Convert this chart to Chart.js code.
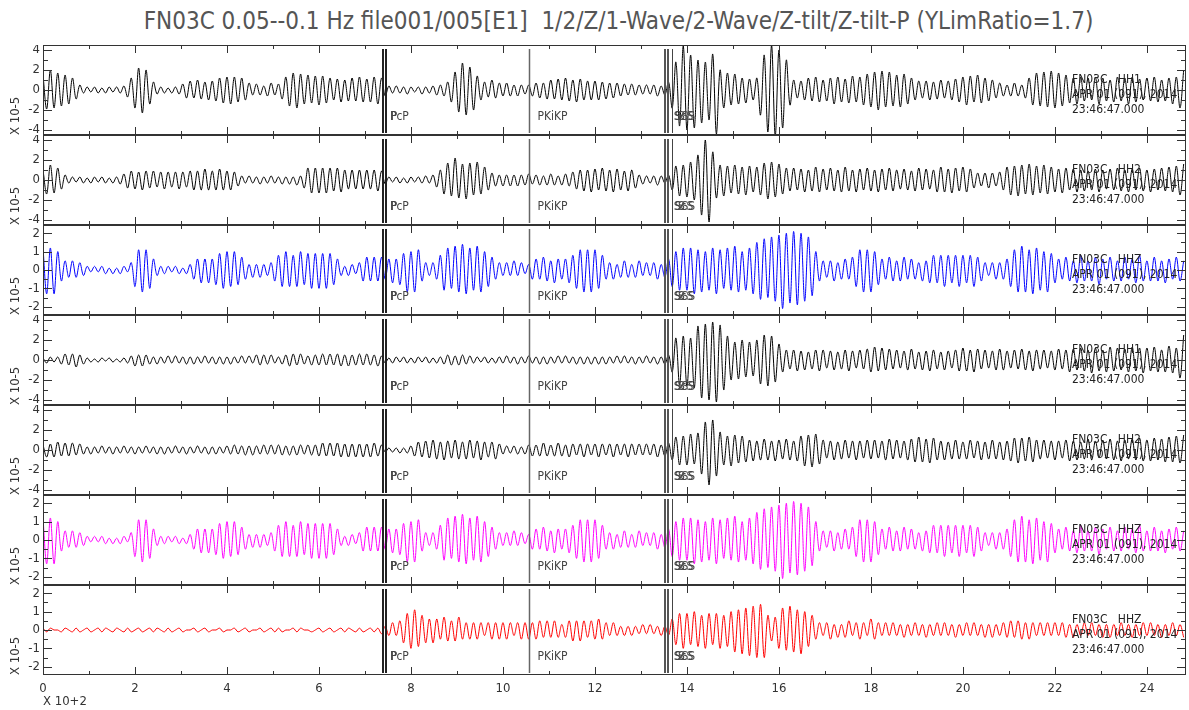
<!DOCTYPE html>
<html><head><meta charset="utf-8">
<script src="https://cdn.jsdelivr.net/npm/chart.js@4.4.1/dist/chart.umd.min.js"></script>
<style>
html,body{margin:0;padding:0;background:#fff;overflow:hidden}
#wrap{position:relative;width:1189px;height:710px;background:#fff}
#title{position:absolute;left:100px;width:1037px;top:6px;text-align:center;font-family:'Liberation Sans Narrow','DejaVu Sans Condensed','Arial Narrow',sans-serif;font-size:24px;line-height:30px;color:#555;white-space:pre}
</style></head>
<body><div id="wrap"><div id="title">FN03C 0.05--0.1 Hz file001/005[E1]  1/2/Z/1-Wave/2-Wave/Z-tilt/Z-tilt-P (YLimRatio=1.7)</div></div>
<script>
// ---- data (sample step DT in units of 10^2 s; amplitudes in 0.1 x 10^-5) ----
const DT = 0.08;
const X_MAX = 24.85;
const X_TICKS = [0,1,2,3,4,5,6,7,8,9,10,11,12,13,14,15,16,17,18,19,20,21,22,23,24];
const X_LABELS = [0,2,4,6,8,10,12,14,16,18,20,22,24];
const Y_TICKS_WIDE = [-4,-3,-2,-1,0,1,2,3,4];
const Y_LABELS_WIDE = [-4,-2,0,2,4];
const Y_TICKS_NARROW = [-2,-1.5,-1,-0.5,0,0.5,1,1.5,2];
const Y_LABELS_NARROW = [-2,-1,0,1,2];
const PHASE_P = [7.385, 7.455];
const PHASE_PKIKP = [10.575];
const PHASE_S = [13.515, 13.58, 13.677];
const CHANNELS = ['HH1','HH2','HHZ','HH1','HH2','HHZ','HHZ'];
const STATION = 'FN03C';
const DATE_TXT = 'APR 01 (091), 2014';
const TIME_TXT = '23:46:47.000';

const hh1 = [
15,-19,20,-18,17,-16,15,-14,12,-9,5,-3,3,-2,3,-3,2,-3,3,-2,3,-3,4,-7,12,
-18,22,-23,20,-14,8,-4,3,-3,2,-3,3,-4,6,-8,9,-8,10,-9,8,-10,9,-11,12,-13,
13,-14,13,-12,12,-10,7,-5,6,-5,4,-6,7,-5,6,-9,13,-16,17,-18,16,-14,15,-13,14,
-15,14,-13,12,-10,11,-12,10,-11,12,-11,13,-12,11,-12,13,-14,12,-6,4,-3,4,-3,3,-4,
3,-2,3,-4,3,-3,4,-5,5,-6,8,-12,18,-22,27,-25,23,-20,14,-10,8,-7,10,-8,7,
-6,7,-6,5,-6,5,-4,5,-6,7,-8,7,-9,10,-9,11,-10,12,-11,10,-12,11,-10,9,-10,
9,-10,8,-9,7,-8,7,-6,6,-5,6,-5,5,-4,5,-4,5,-6,4,-5,8,-18,28,-36,44,
-40,35,-38,30,-33,28,-30,36,-44,20,-18,17,-15,16,-14,12,-13,11,-10,12,-25,35,-42,45,-46,
40,-38,30,-15,10,-8,9,-10,12,-11,13,-12,10,-11,12,-14,13,-12,11,-13,14,-12,13,-15,16,
-17,18,-20,19,-17,18,-16,15,-17,16,-14,12,-10,9,-8,9,-10,8,-9,10,-8,9,-10,11,-12,
13,-15,14,-12,15,-13,12,-11,10,-8,7,-6,5,-6,7,-6,5,-8,12,-15,17,-16,18,-17,19,
-18,17,-16,15,-13,12,-14,13,-11,12,-10,13,-14,12,-11,10,-12,13,-11,12,-14,13,-12,11,-10,
12,-11,13,-12,10,-11,12,-14,13,-18,20];

const hh2 = [
10,-14,15,-13,12,-9,5,-3,3,-2,3,-3,2,-3,3,-2,3,-3,2,-3,3,-4,6,-8,9,
-9,8,-10,9,-8,9,-7,8,-9,8,-7,8,-9,8,-7,9,-10,9,-10,11,-10,9,-10,11,-10,
9,-10,8,-6,4,-3,4,-3,3,-4,3,-3,4,-3,3,-4,3,-4,3,-5,4,-8,12,-13,12,
-13,12,-13,12,-11,12,-12,10,-9,10,-9,10,-9,10,-9,10,-11,9,-4,3,-2,3,-3,2,-3,
3,-2,3,-3,4,-3,5,-7,10,-14,17,-16,22,-18,16,-19,17,-15,18,-14,13,-10,7,-6,5,
-6,5,-6,5,-6,5,-5,6,-4,5,-5,4,-5,6,-5,4,-5,6,-6,8,-9,10,-11,10,-12,
11,-10,12,-11,10,-12,11,-10,9,-11,10,-8,5,-4,4,-3,4,-5,4,-3,5,-10,14,-16,15,
-17,18,-20,25,-35,40,-42,28,-18,15,-16,14,-13,15,-14,13,-15,14,-12,13,-15,17,-19,18,-17,
16,-14,12,-11,12,-10,11,-12,10,-11,13,-12,11,-10,12,-11,10,-12,13,-11,10,-12,11,-10,12,
-11,10,-12,11,-10,12,-11,10,-9,11,-10,9,-11,12,-10,11,-9,10,-12,13,-12,11,-13,12,-11,
13,-12,11,-8,7,-6,7,-8,7,-6,8,-10,13,-15,14,-16,15,-14,16,-15,14,-13,15,-14,13,
-12,11,-13,12,-10,11,-12,10,-11,9,-10,11,-12,10,-9,11,-10,12,-11,10,-12,11,-10,12,-11,
10,-12,11,-10,12,-11,13,-12,14,-15,16];

const hhz = [
12,-13,12,-13,10,-6,5,-4,5,-4,4,-3,2,-1,2,-1,2,-2,1,-2,1,-2,2,-1,4,
-9,11,-12,11,-10,6,-3,2,-2,2,-1,2,-2,1,-2,3,-5,6,-7,6,-7,6,-8,9,-10,
10,-9,10,-8,7,-5,3,-4,3,-4,3,-3,4,-6,8,-9,10,-9,8,-9,10,-8,9,-10,9,
-10,9,-10,9,-8,6,-3,2,-3,3,-2,4,-6,7,-6,7,-6,7,-5,6,-7,6,-8,9,-12,
10,-12,11,-6,4,-3,4,-5,8,-11,12,-10,13,-12,14,-13,12,-11,13,-12,10,-9,7,-5,4,
-3,4,-3,5,-3,4,-2,3,-5,6,-5,7,-6,5,-7,6,-5,6,-7,8,-10,11,-12,11,-12,
11,-10,8,-5,4,-5,3,-4,5,-4,3,-4,5,-3,4,-3,4,-5,3,-4,6,-9,10,-11,12,
-11,12,-13,11,-12,10,-11,12,-13,11,-10,12,-11,13,-12,10,-11,12,-13,15,-16,17,-15,18,-17,
19,-21,20,-18,21,-19,20,-17,18,-14,10,-6,5,-4,5,-6,4,-5,6,-5,7,-9,11,-12,11,
-12,10,-8,6,-5,7,-6,5,-6,7,-5,6,-5,4,-6,5,-7,8,-7,8,-9,8,-7,8,-9,
8,-7,8,-9,7,-6,4,-3,4,-5,4,-5,6,-9,11,-12,13,-12,11,-13,12,-11,10,-12,9,
-7,6,-5,7,-6,5,-7,8,-6,5,-6,7,-8,6,-5,7,-6,5,-6,7,-5,6,-7,8,-6,
5,-6,7,-6,5,-7,6,-5,7,-6,5];

const wave1 = [
2,-3,3,-2,3,-4,6,-5,6,-7,5,-4,2,-2,1,-2,2,-1,2,-2,1,-2,2,-3,4,
-6,5,-6,5,-4,3,-4,3,-3,4,-3,4,-3,3,-4,3,-4,3,-3,4,-3,3,-4,3,-4,
3,-4,3,-3,4,-3,4,-3,5,-5,5,-4,5,-3,3,-4,5,-6,6,-5,6,-4,4,-5,5,
-5,6,-5,6,-5,6,-6,5,-6,5,-5,6,-5,6,-5,5,-6,4,-3,2,-3,3,-2,3,-3,
2,-3,3,-2,3,-3,2,-3,3,-4,5,-5,4,-5,5,-4,4,-3,3,-2,3,-3,2,-3,3,
-3,4,-3,3,-4,3,-3,4,-3,3,-4,3,-4,3,-3,4,-3,4,-3,3,-4,3,-4,3,-4,
3,-4,3,-4,3,-3,4,-3,4,-3,3,-4,3,-3,4,-3,3,-4,3,-4,5,-12,22,-25,24,
-26,22,-28,34,-38,36,-40,38,-42,35,-30,24,-20,18,-19,20,-17,18,-16,20,-24,25,-26,24,-22,
16,-12,10,-9,10,-11,9,-10,8,-9,10,-11,10,-8,9,-10,8,-9,10,-11,9,-8,10,-9,11,
-12,13,-11,12,-10,11,-9,10,-8,9,-10,11,-9,8,-10,9,-11,10,-9,8,-10,9,-8,10,-11,
12,-11,10,-12,11,-9,10,-8,9,-10,11,-10,9,-8,10,-9,11,-10,9,-11,10,-9,10,-8,9,
-10,11,-9,10,-12,11,-10,12,-11,10,-13,12,-11,10,-12,13,-11,12,-10,11,-12,13,-11,12,-13,
12,-11,13,-12,10,-12,14,-13,12,-18,25];

const wave2 = [
5,-7,6,-7,8,-6,7,-6,7,-5,6,-4,3,-4,3,-3,4,-3,3,-4,3,-3,4,-3,3,
-4,3,-3,4,-3,3,-4,3,-4,3,-3,4,-3,3,-4,3,-3,4,-3,3,-4,3,-4,3,-3,
4,-4,5,-4,4,-5,4,-5,4,-4,5,-4,5,-4,5,-5,4,-5,4,-5,5,-4,5,-5,5,
-6,7,-6,7,-6,7,-7,6,-7,6,-7,6,-7,6,-7,7,-6,5,-2,2,-2,2,-3,2,-3,
4,-6,8,-7,9,-8,10,-9,8,-10,9,-8,10,-9,8,-9,10,-8,9,-10,8,-7,8,-9,6,
-4,4,-3,4,-4,3,-4,5,-6,5,-6,7,-6,5,-6,7,-6,5,-7,6,-5,6,-7,6,-5,
6,-7,6,-5,6,-7,6,-5,6,-7,6,-5,6,-5,6,-5,6,-7,5,-6,7,-10,13,-15,14,
-15,16,-14,17,-24,28,-35,30,-26,18,-15,14,-16,15,-13,14,-12,10,-11,9,-10,11,-10,9,-11,
10,-9,11,-10,9,-11,14,-16,15,-17,16,-14,10,-8,9,-10,8,-9,10,-8,9,-10,9,-8,10,
-9,10,-8,9,-10,11,-9,10,-8,9,-10,11,-12,13,-12,11,-13,12,-10,9,-10,8,-9,10,-9,
8,-9,10,-8,9,-10,8,-9,10,-9,8,-10,9,-11,12,-13,12,-11,13,-12,10,-9,10,-8,9,
-10,9,-8,10,-11,9,-10,8,-9,11,-10,9,-8,10,-9,11,-10,9,-11,10,-9,11,-10,12,-11,
10,-11,12,-10,11,-12,13,-12,14,-13,15];

const zTiltP = [
1,-1,1,0,0,-1,1,0,-1,1,-1,0,1,-1,0,1,-1,1,0,-1,1,0,-1,1,-1,
0,1,-1,0,1,-1,1,0,-1,1,-1,0,1,-1,0,0,1,-1,0,1,-1,0,0,1,-1,
0,0,1,-1,0,1,-1,0,0,1,-1,0,1,-1,1,-1,0,0,1,-1,1,0,0,-1,0,
1,-1,0,1,-1,0,1,-1,1,0,-1,1,-1,0,1,-1,1,-2,2,-3,4,-3,5,-7,9,
-10,11,-9,8,-7,6,-7,6,-5,7,-6,5,-6,7,-5,4,-5,4,-5,4,-3,4,-5,4,-5,
4,-5,4,-3,4,-5,4,-5,4,-5,5,-4,5,-4,5,-4,3,-4,5,-6,5,-6,5,-4,5,
-5,6,-5,4,-3,4,-3,2,-3,2,-3,2,-2,3,-2,3,-2,2,-3,2,-3,6,-8,9,-10,
9,-8,10,-9,8,-10,9,-8,9,-10,8,-9,10,-12,11,-13,12,-14,13,-15,14,-15,8,-6,7,
-10,12,-11,13,-12,11,-13,10,-9,8,-5,4,-3,4,-5,3,-4,3,-4,5,-3,4,-5,4,-3,
6,-5,4,-3,4,-3,4,-3,3,-4,3,-3,4,-3,3,-4,3,-3,4,-3,4,-3,3,-4,3,
-3,4,-3,4,-3,3,-4,3,-4,3,-3,4,-4,5,-4,5,-5,4,-5,4,-3,4,-3,4,-3,
4,-3,4,-4,3,-4,3,-3,4,-3,4,-3,3,-4,3,-4,3,-3,4,-3,3,-4,3,-3,4,
-3,4,-3,3,-4,3,-3,4,-3,3,-4];

// ---- layout / styles ----
const FONT = "'Liberation Sans Narrow','DejaVu Sans Condensed','Arial Narrow',sans-serif";
const PANEL_TOP = 45, PANEL_H = 90, AXIS_H = 34, W = 1189, AXIS_W = 43;
const PANELS = [
  {vals: hh1,   lim: 4.5,  ticks: Y_TICKS_WIDE,   labels: Y_LABELS_WIDE,   color: '#000000'},
  {vals: hh2,   lim: 4.5,  ticks: Y_TICKS_WIDE,   labels: Y_LABELS_WIDE,   color: '#000000'},
  {vals: hhz,   lim: 2.45, ticks: Y_TICKS_NARROW, labels: Y_LABELS_NARROW, color: '#0000ff'},
  {vals: wave1, lim: 4.5,  ticks: Y_TICKS_WIDE,   labels: Y_LABELS_WIDE,   color: '#000000'},
  {vals: wave2, lim: 4.5,  ticks: Y_TICKS_WIDE,   labels: Y_LABELS_WIDE,   color: '#000000'},
  {vals: hhz,   lim: 2.45, ticks: Y_TICKS_NARROW, labels: Y_LABELS_NARROW, color: '#ff00ff'},
  {vals: zTiltP,lim: 2.45, ticks: Y_TICKS_NARROW, labels: Y_LABELS_NARROW, color: '#ff0000'}
];

function makeOverlay(p, k) {
  return {
    id: 'overlay' + k,
    afterDatasetsDraw(chart) {
      const ctx = chart.ctx, a = chart.chartArea;
      const xs = chart.scales.x, ys = chart.scales.y;
      const X = v => xs.getPixelForValue(v), Y = v => ys.getPixelForValue(v);
      ctx.save();
      // phase lines
      const t = a.top + 4, b = a.bottom - 2;
      const vline = (v, w, col) => {
        const px = Math.round(X(v)) + (w % 2 ? 0.5 : 0);
        ctx.beginPath(); ctx.moveTo(px, t); ctx.lineTo(px, b);
        ctx.lineWidth = w; ctx.strokeStyle = col; ctx.stroke();
      };
      PHASE_P.forEach(v => vline(v, 2, '#222'));
      PHASE_PKIKP.forEach(v => vline(v, 1.5, '#666'));
      vline(PHASE_S[0], 2, '#555'); vline(PHASE_S[1], 2, '#555'); vline(PHASE_S[2], 1, '#444');
      // phase labels
      ctx.font = '12px ' + FONT; ctx.fillStyle = '#444'; ctx.textBaseline = 'middle'; ctx.textAlign = 'left';
      const ly = a.top + 72;
      ctx.fillText('PcP', X(PHASE_P[1]) + 4, ly);
      ctx.fillText('P', X(PHASE_P[0]) + 8, ly);
      ctx.fillText('PKiKP', X(PHASE_PKIKP[0]) + 8, ly);
      ctx.fillText('ScS', X(PHASE_S[0]) + 9, ly);
      ctx.fillText('SSS', X(PHASE_S[1]) + 7, ly);
      ctx.fillText('S', X(PHASE_S[2]) + 6, ly);
      // station annotation
      ctx.fillStyle = '#222';
      const tx = X(22.37);
      ctx.fillText(STATION + '   ' + CHANNELS[k], tx, a.top + 35);
      ctx.fillText(DATE_TXT, tx, a.top + 50);
      ctx.fillText(TIME_TXT, tx, a.top + 65);
      // inner ticks
      ctx.strokeStyle = '#333'; ctx.lineWidth = 1; ctx.beginPath();
      X_TICKS.forEach(v => {
        const px = Math.round(X(v)) + 0.5, len = X_LABELS.includes(v) ? 8 : 4;
        ctx.moveTo(px, a.top); ctx.lineTo(px, a.top + len);
        ctx.moveTo(px, a.bottom); ctx.lineTo(px, a.bottom - len);
      });
      p.ticks.forEach(v => {
        const py = Math.round(Y(v)) + 0.5, len = p.labels.includes(v) ? 9 : 5;
        ctx.moveTo(a.left, py); ctx.lineTo(a.left + len, py);
        ctx.moveTo(a.right, py); ctx.lineTo(a.right - len, py);
      });
      ctx.stroke();
      // frame
      ctx.strokeStyle = '#333'; ctx.lineWidth = 1;
      ctx.strokeRect(a.left + 0.5, a.top + 0.5, a.width - 1, a.height - 1);
      ctx.restore();
    }
  };
}

function noPad(s) { s.paddingTop = 0; s.paddingBottom = 0; s.paddingLeft = 0; s.paddingRight = 0; }

const wrap = document.getElementById('wrap');
PANELS.forEach((p, k) => {
  const last = k === PANELS.length - 1;
  const h = PANEL_H + (last ? AXIS_H : 0);
  const cv = document.createElement('canvas');
  cv.width = W; cv.height = h;
  cv.style.cssText = `position:absolute;left:0;top:${PANEL_TOP + k * PANEL_H}px;width:${W}px;height:${h}px`;
  wrap.appendChild(cv);
  const pts = p.vals.map((v, i) => ({x: i * DT, y: v / 10}));
  new Chart(cv, {
    type: 'line',
    data: {datasets: [{data: pts, borderColor: p.color, borderWidth: 1, pointRadius: 0, tension: 0.35, fill: false}]},
    options: {
      responsive: false, animation: false, events: [],
      layout: {padding: {left: 0, right: 3, top: 0, bottom: 0}},
      plugins: {legend: {display: false}, tooltip: {enabled: false}, title: {display: false}},
      scales: {
        x: {
          type: 'linear', min: 0, max: X_MAX, display: last,
          grid: {display: false, drawTicks: false}, border: {display: false},
          afterBuildTicks: s => { s.ticks = X_LABELS.map(v => ({value: v})); },
          afterFit: s => { noPad(s); s.height = last ? AXIS_H : 0; },
          ticks: {autoSkip: false, maxRotation: 0, padding: 6, color: '#333', font: {family: FONT, size: 13}, callback: v => String(v)},
          title: {display: true, text: 'X 10+2', align: 'start', color: '#333', font: {family: FONT, size: 13}, padding: {top: 0, bottom: 0}}
        },
        y: {
          type: 'linear', min: -p.lim, max: p.lim,
          grid: {display: false, drawTicks: false}, border: {display: false},
          afterBuildTicks: s => { s.ticks = p.labels.map(v => ({value: v})); },
          afterFit: s => { noPad(s); s.width = AXIS_W; },
          ticks: {autoSkip: false, padding: 3, color: '#333', font: {family: FONT, size: 13}, callback: v => String(v)},
          title: {display: true, text: 'X 10-5', align: 'start', color: '#333', font: {family: FONT, size: 13}, padding: {top: 8, bottom: 0}}
        }
      }
    },
    plugins: [makeOverlay(p, k)]
  });
});
</script></body></html>
